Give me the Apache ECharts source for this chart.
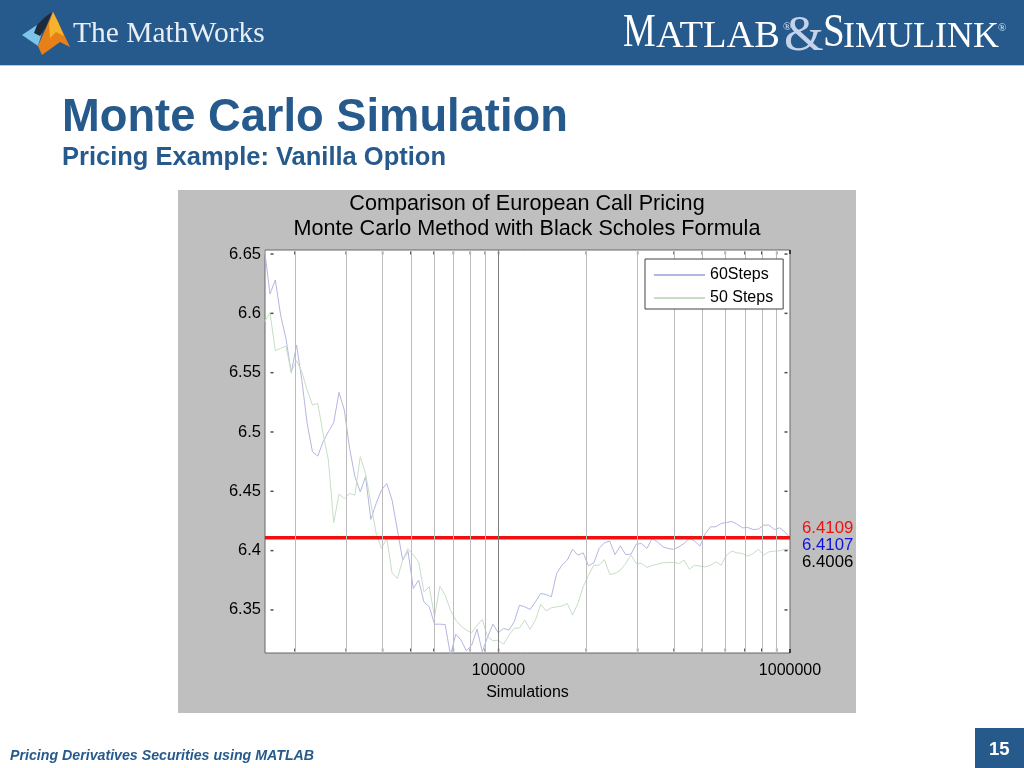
<!DOCTYPE html>
<html>
<head>
<meta charset="utf-8">
<style>html,body{margin:0;padding:0;background:#fff}#chart{width:1024px;height:768px}</style>
<script src="https://cdn.jsdelivr.net/npm/echarts@6/dist/echarts.min.js"></script>
</head>
<body>
<div id="chart"></div>
<script>
// simulations count, one entry per sample of both curves
const simulations = [15760,16435,17139,17873,18639,19437,20270,21138,22043,22987,23972,24999,26070,27186,28351,29565,30831,32152,33529,34965,36463,38024,39653,41351,43122,44969,46895,48904,50998,53182,55460,57836,60313,62896,65590,68399,71328,74383,77569,80891,84356,87969,91737,95666,99763,104036,108492,113138,117984,123037,128307,133802,139533,145509,151741,158240,165017,172085,179456,187142,195157,203516,212232,221322,230801,240686,250995,261745,272955,284646,296837,309551,322809,336635,351053,366088,381768,398119,415170,432952,451495,470832,490998,512027,533957,556826,580675,605545,631480,658526,686730,716143,746815,778801,812156,846940,883214,921042,960490,1000000];
const steps60 = [6.6528,6.6163,6.6281,6.5986,6.5789,6.55,6.5733,6.5438,6.5072,6.4834,6.4797,6.4918,6.5002,6.5078,6.5334,6.5185,6.4862,6.4623,6.4496,6.4623,6.4263,6.4398,6.451,6.4566,6.4425,6.4173,6.392,6.3995,6.3681,6.3751,6.3568,6.3526,6.338,6.338,6.3377,6.3119,6.3296,6.3245,6.3155,6.3203,6.3338,6.3147,6.3273,6.338,6.3307,6.3344,6.333,6.34,6.354,6.3526,6.3504,6.3568,6.3639,6.363,6.3611,6.3807,6.3877,6.392,6.4012,6.3962,6.3981,6.3872,6.3897,6.4018,6.4066,6.408,6.3967,6.404,6.3967,6.397,6.4054,6.406,6.4018,6.4102,6.4074,6.4032,6.4018,6.401,6.4032,6.406,6.4102,6.408,6.4038,6.4144,6.4201,6.4201,6.4229,6.4237,6.4246,6.4223,6.4192,6.4195,6.4178,6.4181,6.4215,6.4215,6.4178,6.4192,6.4158,6.4107];
const steps50 = [6.593,6.6005,6.5685,6.5705,6.5724,6.5508,6.5601,6.5508,6.5353,6.5227,6.5241,6.4988,6.4763,6.4235,6.4477,6.444,6.4482,6.4468,6.4791,6.4651,6.4398,6.4145,6.4018,6.4102,6.3813,6.3765,6.392,6.4018,6.3962,6.3906,6.3653,6.3695,6.3442,6.37,6.3625,6.3498,6.3414,6.3363,6.333,6.3307,6.3372,6.3419,6.3273,6.324,6.3245,6.3211,6.3287,6.3344,6.3349,6.3414,6.3335,6.3414,6.3549,6.3492,6.3518,6.3526,6.3532,6.3554,6.3456,6.3554,6.3695,6.3793,6.3877,6.3877,6.3925,6.3799,6.3807,6.3835,6.3892,6.3962,6.3892,6.3892,6.3858,6.3875,6.3886,6.3897,6.39,6.39,6.3892,6.392,6.3844,6.3877,6.3869,6.3863,6.3877,6.3906,6.3877,6.3962,6.3995,6.3981,6.3976,6.3953,6.3976,6.401,6.3962,6.399,6.3995,6.3998,6.4012,6.4006];
const blackScholes = 6.4109;
const gridX = [20000,30000,40000,50000,60000,70000,80000,90000,100000,200000,300000,400000,500000,600000,700000,800000,900000];
const xLabels = [100000,1000000];
const yLabels = [6.35,6.4,6.45,6.5,6.55,6.6,6.65];
const xMin = 15800, xMax = 1000000, yMin = 6.3137, yMax = 6.6534;
const endValues = ["6.4109","6.4107","6.4006"];

const NAVY = "#265a8c";
const SANS = "Liberation Sans";
const SERIF = "Liberation Serif";

// y is the text baseline, zrender only knows top/middle/bottom so shift it
const txt = (x, y, text, size, fill, extra) => ({
  type: "text", x, y: y - 0.32 * size, z: 5, silent: true,
  style: Object.assign({ text, fontSize: size, fill, fontFamily: SANS, verticalAlign: "middle" }, extra || {}),
});
const serif = (x, y, text, size, fill) => txt(x, y, text, size, fill, { fontFamily: SERIF });
const poly = (points, fill) => ({ type: "polygon", z: 5, silent: true, shape: { points }, style: { fill } });

const chart = echarts.init(document.getElementById("chart"), null, { renderer: "canvas" });
chart.setOption({
  animation: false,
  backgroundColor: "#fff",
  title: {
    text: "Comparison of European Call Pricing\nMonte Carlo Method with Black Scholes Formula",
    left: 527, top: 192, textAlign: "center", padding: 0,
    textStyle: { fontFamily: SANS, fontWeight: "normal", fontSize: 21.6, color: "#000", lineHeight: 25 },
  },
  grid: { left: 265, top: 250, width: 525, height: 403, show: true, backgroundColor: "#fff", borderColor: "#666", borderWidth: 1 },
  xAxis: {
    type: "log", logBase: 10, min: xMin, max: xMax,
    name: "Simulations", nameLocation: "middle", nameGap: 32,
    nameTextStyle: { fontFamily: SANS, fontSize: 16, color: "#000" },
    axisLine: { show: false }, axisTick: { show: false }, splitLine: { show: false }, minorTick: { show: false },
    axisLabel: { customValues: xLabels, formatter: (v) => String(Math.round(v)), fontFamily: SANS, fontSize: 16, color: "#000", margin: 10, showMinLabel: true, showMaxLabel: true, hideOverlap: false },
  },
  yAxis: {
    type: "value", min: yMin, max: yMax, scale: true,
    axisLine: { show: false }, axisTick: { show: false }, splitLine: { show: false },
    axisLabel: { customValues: yLabels, formatter: (v) => String(v), fontFamily: SANS, fontSize: 16.5, color: "#000", margin: 4 },
  },
  legend: {
    left: 645, top: 259, orient: "vertical", data: ["60Steps", "50 Steps"],
    padding: [8, 10, 3, 8], itemWidth: 51, itemHeight: 14, itemGap: 7,
    itemStyle: { opacity: 0 },
    backgroundColor: "#fff", borderColor: "#444", borderWidth: 1, borderRadius: 0, z: 20,
    textStyle: { fontFamily: SANS, fontSize: 16, color: "#000" },
  },
  series: [
    {
      name: "grid", type: "line", data: [], silent: true, z: 1,
      markLine: {
        silent: true, symbol: "none", label: { show: false }, animation: false,
        lineStyle: { color: "#bcbcbc", width: 1, type: "solid" },
        data: gridX.map((v) => ({ xAxis: v, lineStyle: v === 100000 ? { color: "#808080" } : undefined })),
      },
    },
    {
      name: "60Steps", type: "line", showSymbol: false, symbol: "none", z: 3, clip: true,
      data: simulations.map((s, i) => [s, steps60[i]]),
      lineStyle: { color: "#b5b5e2", width: 1 }, itemStyle: { color: "#b5b5e2" },
    },
    {
      name: "50 Steps", type: "line", showSymbol: false, symbol: "none", z: 3, clip: true,
      data: simulations.map((s, i) => [s, steps50[i]]),
      lineStyle: { color: "#c6dec6", width: 1 }, itemStyle: { color: "#c6dec6" },
    },
    {
      name: "Black Scholes", type: "line", showSymbol: false, symbol: "none", z: 4,
      data: [[xMin, blackScholes], [xMax, blackScholes]],
      lineStyle: { color: "#f01010", width: 3.5 },
    },
    {
      // little inside ticks along the box edges, MATLAB style
      name: "ticks", type: "scatter", silent: true, z: 4, clip: false, symbol: "rect", symbolSize: [2, 2],
      itemStyle: { color: "#222" },
      data: [
        ...yLabels.map((v) => ({ value: [xMin, v], symbolSize: [3, 1.5], symbolOffset: [7, 0] })),
        ...yLabels.map((v) => ({ value: [xMax, v], symbolSize: [3, 1.5], symbolOffset: [-4, 0] })),
        ...gridX.map((v) => ({ value: [v, yMax], symbolSize: [1.5, 3], symbolOffset: [0, 3] })),
        ...gridX.map((v) => ({ value: [v, yMin], symbolSize: [1.5, 3], symbolOffset: [0, -3] })),
        { value: [xMax, yMax], symbolSize: [2, 4], symbolOffset: [0, 2] },
        { value: [xMax, yMin], symbolSize: [2, 4], symbolOffset: [0, -2] },
      ],
    },
  ],
  graphic: { elements: [
    // grey figure panel
    { type: "rect", z: -10, silent: true, shape: { x: 178, y: 190, width: 678, height: 523 }, style: { fill: "#bfbfbf" } },
    // header band
    { type: "rect", z: 1, silent: true, shape: { x: 0, y: 0, width: 1024, height: 65 }, style: { fill: NAVY } },
    { type: "rect", z: 1, silent: true, shape: { x: 0, y: 65, width: 1024, height: 1 }, style: { fill: "#a9cbe4" } },
    // logo membrane
    poly([[22, 35], [37, 25], [45, 22], [38, 46]], "#7cc4ea"),
    poly([[37, 25], [45, 17], [52, 12], [46, 27], [40, 36], [34, 33]], "#1d2a3a"),
    poly([[53, 12], [58, 22], [70, 47], [60, 42], [42, 55], [38, 46], [46, 28]], "#e8801a"),
    poly([[53, 12], [58, 22], [64, 36], [56, 32], [50, 38], [49, 24]], "#f7b32c"),
    serif(73, 44, "The MathWorks", 29.5, "#e8eef5"),
    Object.assign(serif(623, 49, "M", 46, "#fff"), { scaleX: 0.8 }),
    serif(656, 49, "ATLAB", 38.5, "#fff"),
    serif(783, 31, "®", 11, "#dde6f2"),
    serif(784, 53, "&", 51, "#c5d3ea"),
    Object.assign(serif(823, 49, "S", 46, "#fff"), { scaleX: 0.85 }),
    serif(843, 49, "IMULINK", 36, "#fff"),
    serif(998, 32, "®", 11, "#dde6f2"),
    // slide headings
    txt(62, 133, "Monte Carlo Simulation", 45.3, NAVY, { fontWeight: "bold" }),
    txt(62, 166, "Pricing Example: Vanilla Option", 25.5, NAVY, { fontWeight: "bold" }),
    // end values
    txt(802, 534, endValues[0], 16.8, "#f01010"),
    txt(802, 551, endValues[1], 16.8, "#1010e0"),
    txt(802, 568, endValues[2], 16.8, "#000"),
    // footer
    txt(10, 761, "Pricing Derivatives Securities using MATLAB", 14.2, NAVY, { fontWeight: "bold", fontStyle: "italic" }),
    { type: "rect", z: 1, silent: true, shape: { x: 975, y: 728, width: 49, height: 40 }, style: { fill: NAVY } },
    txt(989, 756, "15", 18.5, "#fff", { fontWeight: "bold" }),
  ] },
});
</script>
</body>
</html>
